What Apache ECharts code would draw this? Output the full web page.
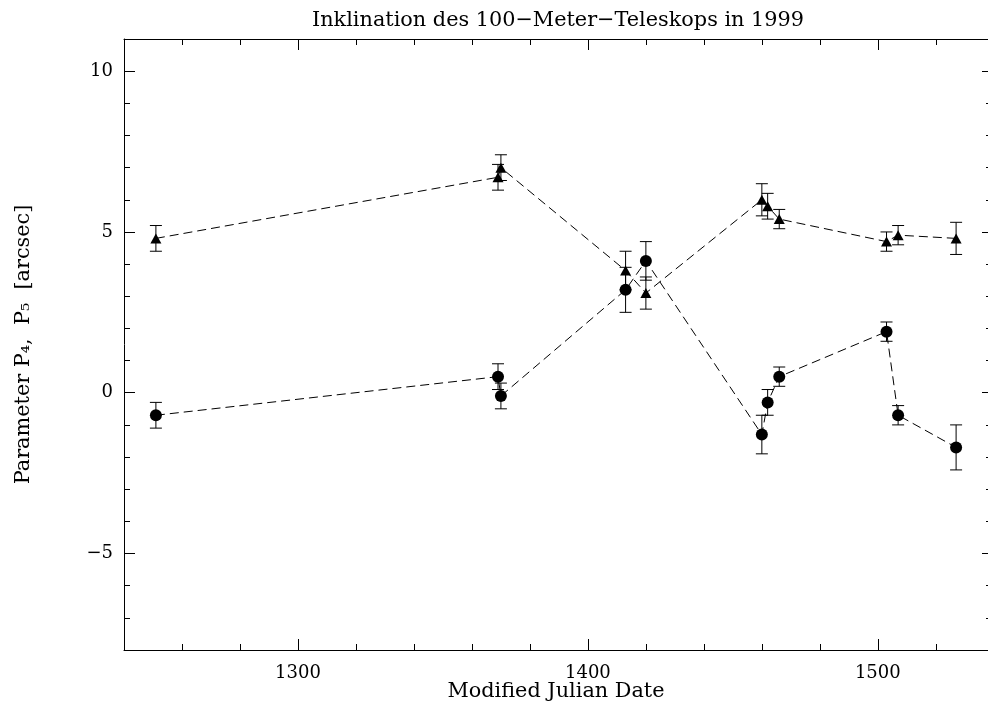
<!DOCTYPE html>
<html><head><meta charset="utf-8">
<script src="https://cdn.jsdelivr.net/npm/echarts@6/dist/echarts.min.js"></script>
<style>html,body{margin:0;padding:0;background:#fff;overflow:hidden}#c{width:988px;height:706px}</style>
</head><body><div id="c"></div>
<script>
// Data
const mjd   = [1251, 1369, 1370, 1413, 1420, 1460, 1462, 1466, 1503, 1507, 1527];
const p4    = [4.8, 6.7, 7.0, 3.8, 3.1, 6.0, 5.8, 5.4, 4.7, 4.9, 4.8];
const p4err = [0.4, 0.4, 0.4, 0.6, 0.5, 0.5, 0.4, 0.3, 0.3, 0.3, 0.5];
const p5    = [-0.7, 0.5, -0.1, 3.2, 4.1, -1.3, -0.3, 0.5, 1.9, -0.7, -1.7];
const p5err = [0.4, 0.4, 0.4, 0.7, 0.6, 0.6, 0.4, 0.3, 0.3, 0.3, 0.7];
const xRange = [1240, 1538];
const yRange = [-8, 11];
const titleText = 'Inklination des 100\u2212Meter\u2212Teleskops in 1999';
const xName = 'Modified Julian Date';
const yName = 'Parameter P\u2084,  P\u2085  [arcsec]';

const FONT = 'DejaVu Serif';
const chart = echarts.init(document.getElementById('c'), null, {renderer: 'canvas'});

function fmtX(v) { return (Math.abs(v % 100) < 1e-9) ? String(v) : ''; }
function fmtY(v) {
  if (Math.abs(v % 5) > 1e-9) return '';
  return v < 0 ? '\u2212' + Math.abs(v) : String(v);
}

function axisBase(extra, tickLen, minorLen) {
  return Object.assign({
    type: 'value',
    axisLine: {show: true, onZero: false, lineStyle: {color: '#000', width: 1}},
    axisTick: {show: true, inside: true, length: tickLen || 11, lineStyle: {color: '#000', width: 1}},
    minorTick: {show: true, splitNumber: 5, length: minorLen || 6, lineStyle: {color: '#000', width: 1}},
    splitLine: {show: false},
    minorSplitLine: {show: false}
  }, extra);
}

function errRender(params, api) {
  const x = api.value(0), lo = api.value(1), hi = api.value(2);
  const a = api.coord([x, lo]), b = api.coord([x, hi]);
  const hw = 6;
  const st = {stroke: '#000', lineWidth: 1, fill: null};
  return {type: 'group', children: [
    {type: 'line', shape: {x1: a[0], y1: a[1], x2: b[0], y2: b[1]}, style: st},
    {type: 'line', shape: {x1: a[0] - hw, y1: a[1], x2: a[0] + hw, y2: a[1]}, style: st},
    {type: 'line', shape: {x1: b[0] - hw, y1: b[1], x2: b[0] + hw, y2: b[1]}, style: st}
  ]};
}

const p4Pts = mjd.map((m, i) => [m, p4[i]]);
const p5Pts = mjd.map((m, i) => [m, p5[i]]);
const p4Err = mjd.map((m, i) => [m, p4[i] - p4err[i], p4[i] + p4err[i]]);
const p5Err = mjd.map((m, i) => [m, p5[i] - p5err[i], p5[i] + p5err[i]]);

const option = {
  animation: false,
  backgroundColor: '#fff',
  title: {
    text: titleText, left: 558, top: 10, textAlign: 'center', padding: 0,
    textStyle: {fontFamily: FONT, fontWeight: 'normal', fontSize: 20.8, color: '#000'}
  },
  grid: {left: 124, right: 0, top: 39, bottom: 56, containLabel: false, outerBoundsMode: 'none'},
  xAxis: [
    axisBase({
      position: 'bottom', min: xRange[0], max: xRange[1], splitNumber: 3,
      name: xName, nameLocation: 'middle', nameGap: 31, nameMoveOverlap: false,
      nameTextStyle: {fontFamily: FONT, fontSize: 20.8, color: '#000'},
      axisLabel: {show: true, formatter: fmtX, margin: 14, fontFamily: FONT, fontSize: 18, color: '#000',
                  showMinLabel: false, showMaxLabel: false}
    }),
    axisBase({
      position: 'top', min: xRange[0], max: xRange[1], splitNumber: 3,
      axisLabel: {show: false}
    })
  ],
  yAxis: [
    axisBase({
      position: 'left', min: yRange[0], max: yRange[1], splitNumber: 4,
      name: yName, nameLocation: 'middle', nameGap: 90, nameRotate: 90, nameMoveOverlap: false,
      nameTextStyle: {fontFamily: FONT, fontSize: 20.8, color: '#000'},
      axisLabel: {show: true, formatter: fmtY, margin: 11, fontFamily: FONT, fontSize: 18, color: '#000',
                  showMinLabel: false, showMaxLabel: false}
    }),
    axisBase({
      position: 'right', min: yRange[0], max: yRange[1], splitNumber: 4,
      axisLine: {show: false},
      axisLabel: {show: false}
    }, 6, 2)
  ],
  series: [
    {type: 'custom', name: 'P4 err', xAxisIndex: 0, yAxisIndex: 0, renderItem: errRender,
     data: p4Err, encode: {x: 0, y: [1, 2]}, z: 2, clip: false},
    {type: 'custom', name: 'P5 err', xAxisIndex: 0, yAxisIndex: 0, renderItem: errRender,
     data: p5Err, encode: {x: 0, y: [1, 2]}, z: 2, clip: false},
    {type: 'line', name: 'P4', data: p4Pts, symbol: 'triangle', symbolSize: [11, 10], showSymbol: true,
     lineStyle: {type: [9, 5], width: 1, color: '#000'}, itemStyle: {color: '#000'}, z: 3},
    {type: 'line', name: 'P5', data: p5Pts, symbol: 'circle', symbolSize: 12, showSymbol: true,
     lineStyle: {type: [9, 5], width: 1, color: '#000'}, itemStyle: {color: '#000'}, z: 3}
  ]
};
chart.setOption(option);
</script></body></html>
